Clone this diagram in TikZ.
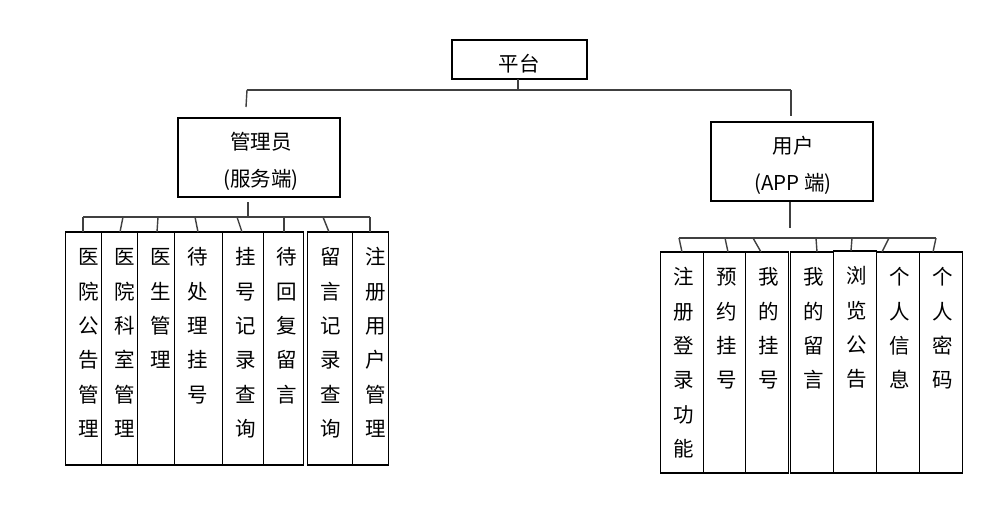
\documentclass[tikz,border=0pt]{standalone}
\usepackage{fontspec}
\newfontfamily\cjk{Noto Sans CJK SC}
\usetikzlibrary{calc}
\newcommand{\firstln}{\rule{0pt}{0.88em}}
\newcommand{\mkleaf}[6]{%
  \node[box, minimum width={(#3)-(#2)}, minimum height={(#5)-(#4)}] (#1) at (#2,#4) {};
  \node[vtext] (#1t) at ($(#1.north west)+(23.5,14.7)$) {\firstln#6};
}
\begin{document}
\begin{tikzpicture}[x=1pt,y=-1pt,
  box/.style={draw=black, line width=1.1pt, inner sep=0pt, outer sep=0pt, anchor=north west},
  link/.style={draw=black!75, line width=1.4pt},
  lbl/.style={font=\cjk\fontsize{20.5}{37}\selectfont, align=center, inner sep=0pt},
  vtext/.style={font=\cjk\fontsize{20.5}{34.35}\selectfont, align=center, inner sep=0pt, anchor=north}]
\fill[white] (0,0) rectangle (1007,514);
\useasboundingbox (0,0) rectangle (1007,514);

% top level
\node[box, minimum width=135, minimum height=39] (root) at (452,40) {};
\node[lbl] (roott) at (519,64) {平台};
\node[box, minimum width=162, minimum height=79] (adm) at (178,118) {};
\node[lbl] (admt) at (261,161.5) {管理员\\(服务端)};
\node[box, minimum width=162, minimum height=79] (usr) at (711,122) {};
\node[lbl] (usrt) at (793,165) {用户\\(APP 端)};

\coordinate (rj) at (518,90);
\coordinate (bl) at (247,90);
\coordinate (br) at (791,90);
\coordinate (blend) at (246,107);
\coordinate (brend) at (791,116);
\draw[link] (rj |- root.south) -- (rj);
\draw[link] (bl) -- (br);
\draw[link] (bl) -- (blend);
\draw[link] (br) -- (brend);

% left leaves
\mkleaf{l1}{65.7}{101.3}{232}{465}{医\\院\\公\\告\\管\\理}
\mkleaf{l2}{101.3}{137.3}{232}{465}{医\\院\\科\\室\\管\\理}
\mkleaf{l3}{137.3}{174.3}{232}{465}{医\\生\\管\\理}
\mkleaf{l4}{174.3}{222.3}{232}{465}{待\\处\\理\\挂\\号}
\mkleaf{l5}{222.3}{263.7}{232}{465}{挂\\号\\记\\录\\查\\询}
\mkleaf{l6}{263.7}{303.3}{232}{465}{待\\回\\复\\留\\言}
\mkleaf{l7}{307.3}{352.3}{232}{465}{留\\言\\记\\录\\查\\询}
\mkleaf{l8}{352.3}{388.3}{232}{465}{注\\册\\用\\户\\管\\理}

\coordinate (al) at (248,217);
\draw[link] ($(al |- adm.south)+(0,5)$) -- (al);
\coordinate (lb1) at (83,217);
\coordinate (lb2) at (123,217);
\coordinate (lb3) at (158,217);
\coordinate (lb4) at (195,217);
\coordinate (lb5) at (237,217);
\coordinate (lb6) at (284,217);
\coordinate (lb7) at (323,217);
\coordinate (lb8) at (370,217);
\draw[link] (lb1) -- (lb8);
\draw[link] (lb1) -- (lb1 |- l1.north);
\draw[link] (lb2) -- ($(lb2 |- l2.north)+(-3,0)$);
\draw[link] (lb3) -- ($(lb3 |- l3.north)+(-1,0)$);
\draw[link] (lb4) -- ($(lb4 |- l4.north)+(3,0)$);
\draw[link] (lb5) -- ($(lb5 |- l5.north)+(5,0)$);
\draw[link] (lb6) -- (lb6 |- l6.north);
\draw[link] (lb7) -- ($(lb7 |- l7.north)+(6,0)$);
\draw[link] (lb8) -- (lb8 |- l8.north);

% right leaves
\mkleaf{r1}{660.7}{703.3}{252}{473}{注\\册\\登\\录\\功\\能}
\mkleaf{r2}{703.3}{745.7}{252}{473}{预\\约\\挂\\号}
\mkleaf{r3}{745.7}{788.3}{252}{473}{我\\的\\挂\\号}
\mkleaf{r4}{790.7}{833.3}{252}{473}{我\\的\\留\\言}
\mkleaf{r5}{833.3}{876.7}{251}{473}{浏\\览\\公\\告}
\mkleaf{r6}{876.7}{919.3}{252}{473}{个\\人\\信\\息}
\mkleaf{r7}{919.3}{962.3}{252}{473}{个\\人\\密\\码}

\coordinate (ar) at (790,228);
\draw[link] ($(ar |- usr.south)+(0,1)$) -- (ar);
\coordinate (rb1) at (679,238);
\coordinate (rb2) at (725,238);
\coordinate (rb3) at (753,238);
\coordinate (rb4) at (816,238);
\coordinate (rb5) at (852,238);
\coordinate (rb6) at (889,238);
\coordinate (rb7) at (936,238);
\draw[link] (rb1) -- (rb7);
\draw[link] (rb1) -- ($(rb1 |- r1.north)+(3,0)$);
\draw[link] (rb2) -- ($(rb2 |- r2.north)+(3,0)$);
\draw[link] (rb3) -- ($(rb3 |- r3.north)+(8,0)$);
\draw[link] (rb4) -- ($(rb4 |- r4.north)+(1,0)$);
\draw[link] (rb5) -- ($(rb5 |- r5.north)+(-1,0)$);
\draw[link] (rb6) -- ($(rb6 |- r6.north)+(-7,0)$);
\draw[link] (rb7) -- ($(rb7 |- r7.north)+(-3,0)$);
\end{tikzpicture}
\end{document}
